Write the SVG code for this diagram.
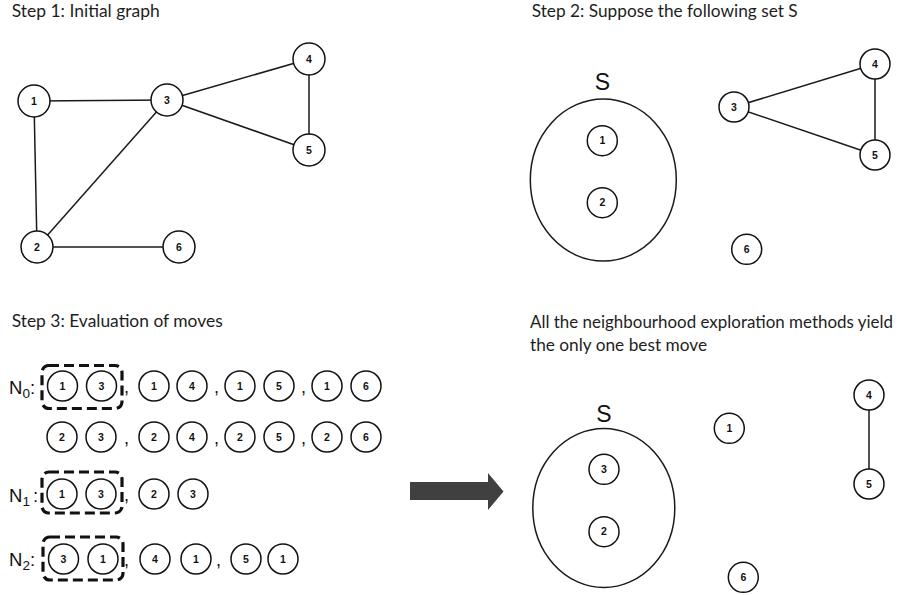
<svg xmlns="http://www.w3.org/2000/svg" width="909" height="595" viewBox="0 0 909 595">
<style>
.title{font-family:Lato,"Liberation Sans",sans-serif;font-size:16.5px;fill:#1e1e1e}
.nd circle{fill:#fff;stroke:#111;stroke-width:1.5}
.nd text{font-family:"Liberation Sans",Arial,sans-serif;font-size:10.5px;font-weight:bold;fill:#111;text-anchor:middle}
.edge{stroke:#1a1a1a;stroke-width:1.5;fill:none}
.set{fill:none;stroke:#1a1a1a;stroke-width:1.5}
.slbl{font-family:"Liberation Sans",Arial,sans-serif;font-size:23px;fill:#111;text-anchor:middle}
.nlbl{font-family:"Liberation Sans",Arial,sans-serif;font-size:18.5px;fill:#111}
.sub{font-size:13.5px}
.comma{font-family:"Liberation Sans",Arial,sans-serif;font-size:18px;fill:#111}
.dash{fill:none;stroke:#111;stroke-width:3.2;stroke-dasharray:10 5}
</style>

<!-- titles -->
<text class="title" x="11.7" y="17" textLength="148" lengthAdjust="spacingAndGlyphs">Step 1: Initial graph</text>
<text class="title" x="531.7" y="17" textLength="266" lengthAdjust="spacingAndGlyphs">Step 2: Suppose the following set S</text>
<text class="title" x="11.7" y="327" textLength="211" lengthAdjust="spacingAndGlyphs">Step 3: Evaluation of moves</text>
<text class="title" x="530" y="328" textLength="363" lengthAdjust="spacingAndGlyphs">All the neighbourhood exploration methods yield</text>
<text class="title" x="530" y="351" textLength="177" lengthAdjust="spacingAndGlyphs">the only one best move</text>

<!-- connectors -->
<g id="connectors">
  <line class="edge" x1="34" y1="101" x2="167" y2="100"/>
  <line class="edge" x1="167" y1="100" x2="309" y2="59"/>
  <line class="edge" x1="167" y1="100" x2="309" y2="150"/>
  <line class="edge" x1="309" y1="59" x2="309" y2="150"/>
  <line class="edge" x1="34" y1="101" x2="37" y2="247"/>
  <line class="edge" x1="37" y1="247" x2="167" y2="100"/>
  <line class="edge" x1="37" y1="247" x2="179" y2="247"/>
  <line class="edge" x1="734" y1="107" x2="875" y2="64"/>
  <line class="edge" x1="734" y1="107" x2="875" y2="155"/>
  <line class="edge" x1="875" y1="64" x2="875" y2="155"/>
  <line class="edge" x1="869" y1="395" x2="869" y2="484"/>
  <polygon points="410,482 488,482 488,473 503.5,491.5 488,510 488,500 410,500" fill="#404040"/>
</g>

<!-- Step 1 -->
<g id="s1-n1" class="nd"><circle cx="34" cy="101" r="16"/><text x="34" y="104.5">1</text></g>
<g id="s1-n3" class="nd"><circle cx="167" cy="100" r="16"/><text x="167" y="103.5">3</text></g>
<g id="s1-n4" class="nd"><circle cx="309" cy="59" r="16"/><text x="309" y="62.5">4</text></g>
<g id="s1-n5" class="nd"><circle cx="309" cy="150" r="16"/><text x="309" y="153.5">5</text></g>
<g id="s1-n2" class="nd"><circle cx="37" cy="247" r="16"/><text x="37" y="250.5">2</text></g>
<g id="s1-n6" class="nd"><circle cx="179" cy="247" r="16"/><text x="179" y="250.5">6</text></g>

<!-- Step 2 -->
<g id="s2-set"><text class="slbl" x="602.5" y="90">S</text><ellipse class="set" cx="603.3" cy="180" rx="73" ry="81"/></g>
<g id="s2-n1" class="nd"><circle cx="602.3" cy="140.7" r="15"/><text x="602.3" y="144.2">1</text></g>
<g id="s2-n2" class="nd"><circle cx="602.3" cy="202.7" r="15"/><text x="602.3" y="206.2">2</text></g>
<g id="s2-n3" class="nd"><circle cx="734" cy="107" r="15"/><text x="734" y="110.5">3</text></g>
<g id="s2-n4" class="nd"><circle cx="875" cy="64" r="15"/><text x="875" y="67.5">4</text></g>
<g id="s2-n5" class="nd"><circle cx="875" cy="155" r="15"/><text x="875" y="158.5">5</text></g>
<g id="s2-n6" class="nd"><circle cx="746.7" cy="249.3" r="15"/><text x="746.7" y="252.8">6</text></g>

<!-- Step 4 result -->
<g id="s4-set"><text class="slbl" x="604" y="421.7">S</text><ellipse class="set" cx="603.8" cy="508" rx="71" ry="79.5"/></g>
<g id="s4-n3" class="nd"><circle cx="604" cy="469.3" r="15"/><text x="604" y="472.8">3</text></g>
<g id="s4-n2" class="nd"><circle cx="604" cy="531.7" r="15"/><text x="604" y="535.2">2</text></g>
<g id="s4-n1" class="nd"><circle cx="729.3" cy="428.3" r="15"/><text x="729.3" y="431.8">1</text></g>
<g id="s4-n4" class="nd"><circle cx="869" cy="395" r="15"/><text x="869" y="398.5">4</text></g>
<g id="s4-n5" class="nd"><circle cx="869" cy="484" r="15"/><text x="869" y="487.5">5</text></g>
<g id="s4-n6" class="nd"><circle cx="743.3" cy="577.3" r="15"/><text x="743.3" y="580.8">6</text></g>

<!-- Step 3 lists -->
<g id="n0-label"><text class="nlbl" x="9" y="394">N<tspan class="sub" dy="4">0</tspan><tspan dy="-4">:</tspan></text></g>
<g id="n1-label"><text class="nlbl" x="9" y="502">N<tspan class="sub" dy="4">1</tspan><tspan dy="-4" dx="3">:</tspan></text></g>
<g id="n2-label"><text class="nlbl" x="9" y="566">N<tspan class="sub" dy="4">2</tspan><tspan dy="-4">:</tspan></text></g>

<g id="n0-box"><rect class="dash" x="42" y="365.5" width="80" height="43" rx="7"/></g>
<g id="n1-box"><rect class="dash" x="42" y="472" width="80" height="41" rx="7"/></g>
<g id="n2-box"><rect class="dash" x="43" y="537" width="80" height="43" rx="7"/></g>

<g id="n0-row1" class="nd">
  <circle cx="62.5" cy="386" r="15"/><text x="62.5" y="389.5">1</text>
  <circle cx="101.5" cy="386" r="15"/><text x="101.5" y="389.5">3</text>
  <circle cx="154" cy="386" r="15"/><text x="154" y="389.5">1</text>
  <circle cx="192" cy="386" r="15"/><text x="192" y="389.5">4</text>
  <circle cx="240" cy="386" r="15"/><text x="240" y="389.5">1</text>
  <circle cx="279" cy="386" r="15"/><text x="279" y="389.5">5</text>
  <circle cx="327" cy="386" r="15"/><text x="327" y="389.5">1</text>
  <circle cx="366" cy="386" r="15"/><text x="366" y="389.5">6</text>
</g>
<g id="n0-row2" class="nd">
  <circle cx="62" cy="437" r="15"/><text x="62" y="440.5">2</text>
  <circle cx="101" cy="437" r="15"/><text x="101" y="440.5">3</text>
  <circle cx="154" cy="437" r="15"/><text x="154" y="440.5">2</text>
  <circle cx="192" cy="437" r="15"/><text x="192" y="440.5">4</text>
  <circle cx="240" cy="437" r="15"/><text x="240" y="440.5">2</text>
  <circle cx="279" cy="437" r="15"/><text x="279" y="440.5">5</text>
  <circle cx="327" cy="437" r="15"/><text x="327" y="440.5">2</text>
  <circle cx="366" cy="437" r="15"/><text x="366" y="440.5">6</text>
</g>
<g id="n1-row" class="nd">
  <circle cx="62" cy="494" r="15"/><text x="62" y="497.5">1</text>
  <circle cx="101" cy="494" r="15"/><text x="101" y="497.5">3</text>
  <circle cx="154" cy="494" r="15"/><text x="154" y="497.5">2</text>
  <circle cx="193" cy="494" r="15"/><text x="193" y="497.5">3</text>
</g>
<g id="n2-row" class="nd">
  <circle cx="63.5" cy="559" r="15"/><text x="63.5" y="562.5">3</text>
  <circle cx="103" cy="559" r="15"/><text x="103" y="562.5">1</text>
  <circle cx="155" cy="559" r="15"/><text x="155" y="562.5">4</text>
  <circle cx="196" cy="559" r="15"/><text x="196" y="562.5">1</text>
  <circle cx="246" cy="559" r="15"/><text x="246" y="562.5">5</text>
  <circle cx="283" cy="559" r="15"/><text x="283" y="562.5">1</text>
</g>

<g id="commas">
  <text class="comma" x="124" y="393">,</text>
  <text class="comma" x="214" y="393">,</text>
  <text class="comma" x="301" y="393">,</text>
  <text class="comma" x="124" y="444">,</text>
  <text class="comma" x="214" y="444">,</text>
  <text class="comma" x="301" y="444">,</text>
  <text class="comma" x="124" y="501">,</text>
  <text class="comma" x="124" y="566">,</text>
  <text class="comma" x="216" y="566">,</text>
</g>
</svg>
